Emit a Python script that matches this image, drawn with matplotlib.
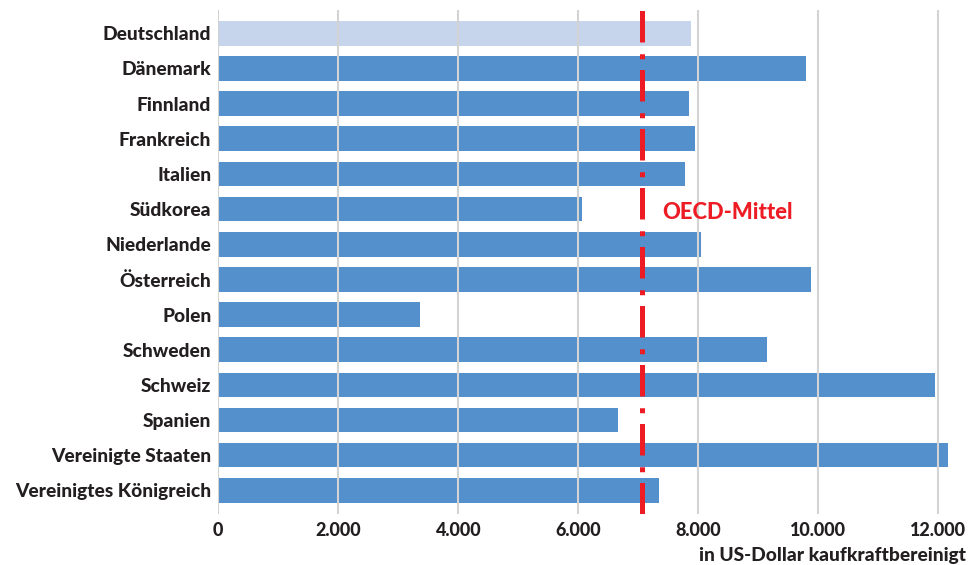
import matplotlib

matplotlib.use("Agg")
import matplotlib.pyplot as plt

plt.rcParams["font.family"] = ["Lato", "DejaVu Sans"]

countries = [
    "Deutschland",
    "Dänemark",
    "Finnland",
    "Frankreich",
    "Italien",
    "Südkorea",
    "Niederlande",
    "Österreich",
    "Polen",
    "Schweden",
    "Schweiz",
    "Spanien",
    "Vereinigte Staaten",
    "Vereinigtes Königreich",
]
values = [7880, 9795, 7845, 7945, 7780, 6055, 8040, 9875, 3360, 9145, 11945, 6660, 12160, 7345]
oecd_mean = 7067

x_ticks = [0, 2000, 4000, 6000, 8000, 10000, 12000]
x_tick_labels = ["0", "2.000", "4.000", "6.000", "8.000", "10.000", "12.000"]

BAR_BLUE = "#5390cc"
BAR_LIGHT = "#c6d5ec"
RED = "#ed1c24"
TEXT = "#231f20"
GRID = "#d3d3d3"

W, H = 977, 565
fig = plt.figure(figsize=(W / 100, H / 100), dpi=100)
left, right, top, bottom = 218.3, 962.3, 10, 514
ax = fig.add_axes([left / W, 1 - bottom / H, (right - left) / W, (bottom - top) / H])

colors = [BAR_LIGHT if c == "Deutschland" else BAR_BLUE for c in countries]
pos = list(range(len(countries)))
ax.barh(pos, values, height=0.70, color=colors, zorder=1)

for xt in x_ticks:
    ax.axvline(xt, color=GRID, lw=1.5, zorder=2)

ax.axvline(oecd_mean, color=RED, lw=3.6, zorder=3,
           linestyle=(0, (6.3, 2.15, 1.0, 2.35)))
ax.text(oecd_mean + 340, 5.09, "OECD-Mittel", color=RED, fontsize=15.8,
        fontweight="black", ha="left", va="center", zorder=4)

ax.set_xlim(0, 12400)
ax.set_ylim(13.674, -0.663)
ax.set_yticks(pos)
ax.set_yticklabels(countries, fontsize=13.8, fontweight="black", color=TEXT)
ax.set_xticks(x_ticks)
ax.set_xticklabels(x_tick_labels, fontsize=13, fontweight="black", color=TEXT)
ax.tick_params(axis="y", length=0, pad=5)
ax.tick_params(axis="x", length=0, pad=6)
for s in ax.spines.values():
    s.set_visible(False)

fig.text(966 / W, 1 - 556 / H, "in US-Dollar kaufkraftbereinigt", fontsize=13.8,
         fontweight="black", color=TEXT, ha="right", va="center")

fig.savefig("out.png", dpi=100)
